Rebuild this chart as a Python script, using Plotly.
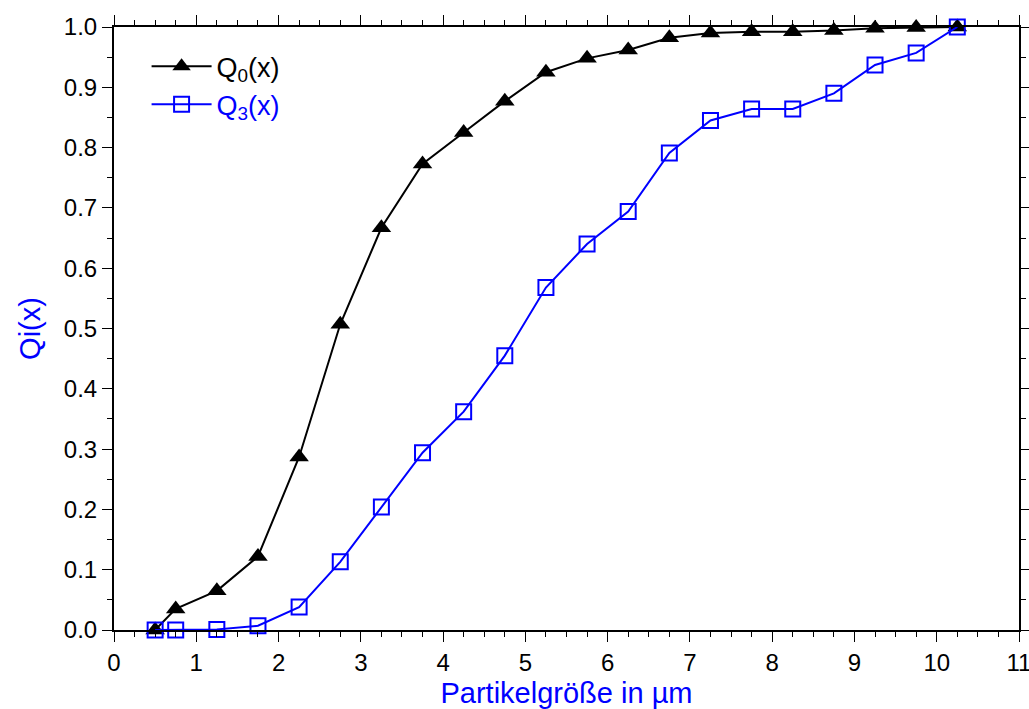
import plotly.graph_objects as go

x_vals = [0.5, 0.75, 1.25, 1.75, 2.25, 2.75, 3.25, 3.75, 4.25, 4.75, 5.25,
          5.75, 6.25, 6.75, 7.25, 7.75, 8.25, 8.75, 9.25, 9.75, 10.25]
q0_vals = [0.0, 0.035, 0.065, 0.122, 0.287, 0.507, 0.667, 0.773, 0.825, 0.877, 0.925,
           0.948, 0.962, 0.982, 0.990, 0.992, 0.992, 0.994, 0.998, 0.999, 1.0]
q3_vals = [0.0, 0.0, 0.001, 0.007, 0.038, 0.113, 0.204, 0.294, 0.362, 0.455, 0.568,
           0.640, 0.694, 0.791, 0.845, 0.864, 0.864, 0.890, 0.937, 0.957, 1.0]

FONT = "Liberation Sans, Arial, sans-serif"

fig = go.Figure()
fig.add_trace(go.Scatter(
    x=x_vals, y=q0_vals, mode="lines+markers", name="Q<sub>0</sub>(x)",
    line=dict(color="black", width=2),
    marker=dict(symbol="triangle-up", size=17, color="black"),
    cliponaxis=False,
))
fig.add_trace(go.Scatter(
    x=x_vals, y=q3_vals, mode="lines+markers",
    name="<span style='color:#0000ff'>Q<sub>3</sub>(x)</span>",
    line=dict(color="#0000ff", width=2),
    marker=dict(symbol="square-open", size=15, color="#0000ff", line=dict(width=2)),
    cliponaxis=False,
))

axis_common = dict(
    showline=True, linecolor="black", linewidth=2, mirror="ticks",
    ticks="outside", ticklen=10, tickwidth=1, tickcolor="black",
    showgrid=False, zeroline=False, automargin=False,
    ticklabeloverflow="allow",
    tickfont=dict(family=FONT, size=24, color="black"),
)

fig.update_xaxes(
    range=[0, 11], dtick=1, tick0=0,
    title=dict(text="Partikelgröße in µm", font=dict(family=FONT, size=29, color="#0000ff"),
               standoff=20),
    minor=dict(ticks="outside", ticklen=5, dtick=0.25, tickcolor="black", tickwidth=1),
    **axis_common,
)
fig.update_yaxes(
    range=[0, 1.0], dtick=0.1, tick0=0, tickformat=".1f",
    title=dict(text="Qi(x)", font=dict(family=FONT, size=29, color="#0000ff")),
    minor=dict(ticks="outside", ticklen=5, dtick=0.05, tickcolor="black", tickwidth=1),
    **axis_common,
)

fig.update_layout(
    width=1029, height=709,
    margin=dict(l=114, r=10, t=27, b=79),
    paper_bgcolor="white", plot_bgcolor="white",
    font=dict(family=FONT),
    showlegend=True,
    legend=dict(
        x=0.036, y=0.975, xanchor="left", yanchor="top",
        bgcolor="rgba(0,0,0,0)",
        font=dict(family=FONT, size=27, color="black"),
        tracegroupgap=0, itemwidth=60,
    ),
)

# remove the default 8px page margin so the figure fills the window exactly
fig.write_html(
    "out.html",
    config={"displayModeBar": False},
    post_script="document.body.style.margin='0';document.body.style.overflow='hidden';",
)
